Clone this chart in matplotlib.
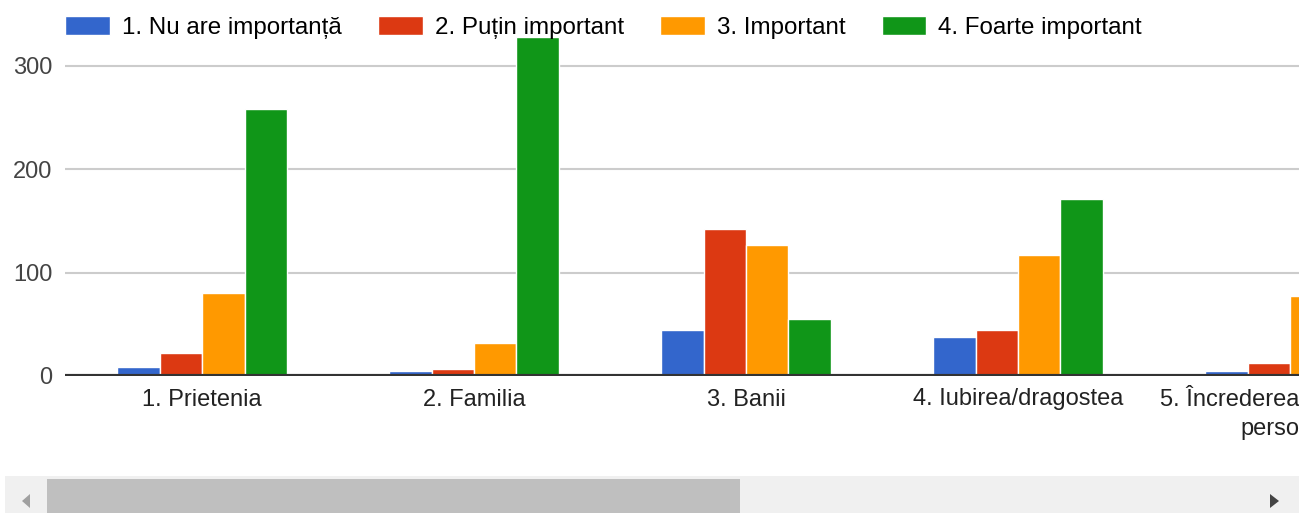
import numpy as np
import matplotlib.pyplot as plt
from matplotlib.patches import Rectangle, Polygon

plt.rcParams['font.family'] = ['Liberation Sans', 'DejaVu Sans']

categories = ['1. Prietenia', '2. Familia', '3. Banii', '4. Iubirea/dragostea',
              '5. Încrederea în celelalte\npersoane']
series_names = ['1. Nu are importanță', '2. Puțin important', '3. Important',
                '4. Foarte important']
nu_are = [9, 5, 45, 38, 5]
putin = [22, 7, 142, 45, 13]
important = [80, 32, 127, 117, 77]
foarte = [258, 328, 55, 171, 230]
colors = ['#3366cc', '#dc3912', '#ff9900', '#109618']

fig = plt.figure(figsize=(12.99, 5.13), dpi=100)
W, H = 1299, 513
# axes box in pixels: left 65, right 1299, top 35, bottom 376
ax = fig.add_axes([65 / W, (H - 376) / H, (W - 65) / W, (376 - 35) / H])

x = np.arange(len(categories))
bw = 0.156
offsets = [-1.5 * bw, -0.5 * bw, 0.5 * bw, 1.5 * bw]
for vals, off, c, name in zip([nu_are, putin, important, foarte], offsets, colors, series_names):
    ax.bar(x + off, vals, width=bw, color=c, edgecolor='white', linewidth=1,
           label=name, zorder=3)

fs = 17
ax.set_xlim(-0.504, 4.033)
ax.set_ylim(0, 330)
ax.set_yticks([0, 100, 200, 300])
ax.set_xticks(x)
ax.set_xticklabels(categories, fontsize=fs, color='#222222', linespacing=1.45)
ax.tick_params(axis='y', length=0, labelsize=fs, labelcolor='#444444', pad=9)
ax.tick_params(axis='x', length=0, pad=9)
ax.grid(axis='y', color='#cccccc', linewidth=1.5, zorder=0)
for s in ax.spines.values():
    s.set_visible(False)
ax.axhline(0, color='#333333', linewidth=3, zorder=4)

fig.legend(loc='upper left', bbox_to_anchor=(65 / W, 1 - 16 / H), ncol=4,
           frameon=False, fontsize=17.4, handlelength=1.85, handleheight=0.85,
           handletextpad=0.5, columnspacing=1.5, borderaxespad=0, borderpad=0)

# scrollbar under the chart
fig.patches.append(Rectangle((5 / W, 0), (W - 5) / W, 37 / H, transform=fig.transFigure,
                             facecolor='#f0f0f0', edgecolor='none'))
fig.patches.append(Rectangle((47 / W, 0), (740 - 47) / W, 34 / H, transform=fig.transFigure,
                             facecolor='#bfbfbf', edgecolor='none'))
fig.patches.append(Polygon([(30 / W, 19 / H), (22 / W, 12 / H), (30 / W, 5 / H)],
                           closed=True, transform=fig.transFigure,
                           facecolor='#a0a0a0', edgecolor='none'))
fig.patches.append(Polygon([(1270 / W, 19 / H), (1279 / W, 12 / H), (1270 / W, 5 / H)],
                           closed=True, transform=fig.transFigure,
                           facecolor='#444444', edgecolor='none'))

fig.savefig('out.png', dpi=100)
